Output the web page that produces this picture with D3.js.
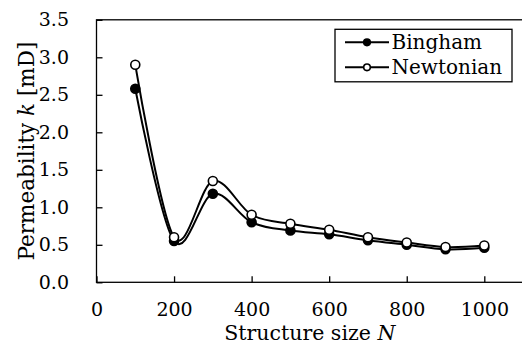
<!DOCTYPE html>
<html>
<head>
<meta charset="utf-8">
<script src="https://cdn.jsdelivr.net/npm/d3@7"></script>
<style>
  html, body { margin: 0; padding: 0; background: #fff; }
  svg { display: block; }
  text { font-family: "DejaVu Serif", "Liberation Serif", serif; fill: #000; }
</style>
</head>
<body>
<svg id="chart" width="522" height="347"></svg>
<script>
// Structure sizes and permeability for each fluid model
const sizes = [100, 200, 300, 400, 500, 600, 700, 800, 900, 1000];
const bingham = [2.58, 0.55, 1.18, 0.80, 0.69, 0.64, 0.56, 0.50, 0.44, 0.46];
const newtonian = [2.90, 0.60, 1.35, 0.90, 0.78, 0.70, 0.60, 0.53, 0.47, 0.49];
const xTicks = [0, 200, 400, 600, 800, 1000];
const yTicks = [0, 0.5, 1.0, 1.5, 2.0, 2.5, 3.0, 3.5];

const svg = d3.select("#chart");
const plotLeft = 96.5, plotTop = 19.8, plotBottom = 282.3;
const x = d3.scaleLinear().domain([0, 1000]).range([plotLeft, 484.3]);
const y = d3.scaleLinear().domain([0, 3.5]).range([plotBottom, plotTop]);
const plotRight = x(1100);

// frame
svg.append("rect")
  .attr("x", plotLeft).attr("y", plotTop)
  .attr("width", plotRight - plotLeft).attr("height", plotBottom - plotTop)
  .attr("fill", "none").attr("stroke", "#000").attr("stroke-width", 1.3);

// axes with inward ticks
const xAxis = svg.append("g").attr("transform", `translate(0,${plotBottom})`)
  .call(d3.axisBottom(x).tickValues(xTicks).tickSizeInner(-6).tickSizeOuter(0).tickPadding(20).tickFormat(d3.format("d")));
const yAxis = svg.append("g").attr("transform", `translate(${plotLeft},0)`)
  .call(d3.axisLeft(y).tickValues(yTicks).tickSizeInner(-6).tickSizeOuter(0).tickPadding(27.5).tickFormat(d3.format(".1f")));
[xAxis, yAxis].forEach(g => {
  g.select(".domain").remove();
  g.selectAll(".tick line").attr("stroke", "#000").attr("stroke-width", 1.3);
  g.selectAll(".tick text").style("font-size", "19px").style("font-family", null).attr("fill", "#000");
});

// axis titles
const xt = svg.append("text").attr("x", (plotLeft + plotRight) / 2).attr("y", 340)
  .attr("text-anchor", "middle").style("font-size", "20.5px");
xt.append("tspan").text("Structure size ");
xt.append("tspan").attr("font-style", "italic").text("N");

const yt = svg.append("text")
  .attr("transform", `translate(34,${(plotTop + plotBottom) / 2}) rotate(-90)`)
  .attr("text-anchor", "middle").style("font-size", "21.5px");
yt.append("tspan").text("Permeability ");
yt.append("tspan").attr("font-style", "italic").text("k");
yt.append("tspan").text(" [mD]");

// smoothed series
const line = d3.line().x(d => x(d[0])).y(d => y(d[1])).curve(d3.curveCatmullRom.alpha(0));
const series = [
  { name: "Bingham", values: bingham, fill: "#000" },
  { name: "Newtonian", values: newtonian, fill: "#fff" }
];
series.forEach(s => {
  const pts = sizes.map((n, i) => [n, s.values[i]]);
  svg.append("path").datum(pts).attr("d", line)
    .attr("fill", "none").attr("stroke", "#000").attr("stroke-width", 2);
  svg.append("g").selectAll("circle").data(pts).join("circle")
    .attr("cx", d => x(d[0])).attr("cy", d => y(d[1])).attr("r", 4.5)
    .attr("fill", s.fill).attr("stroke", "#000").attr("stroke-width", 1.6);
});

// legend
const lg = svg.append("g").attr("transform", "translate(335,29.3)");
lg.append("rect").attr("width", 177).attr("height", 52.5)
  .attr("fill", "#fff").attr("stroke", "#000").attr("stroke-width", 1.3);
series.forEach((s, i) => {
  const cy = 13 + i * 25;
  lg.append("line").attr("x1", 10).attr("x2", 54).attr("y1", cy).attr("y2", cy)
    .attr("stroke", "#000").attr("stroke-width", 2);
  lg.append("circle").attr("cx", 32).attr("cy", cy).attr("r", 3.3)
    .attr("fill", s.fill).attr("stroke", "#000").attr("stroke-width", 1.6);
  lg.append("text").attr("x", 56.5).attr("y", cy).attr("dy", "0.35em")
    .style("font-size", "20px").text(s.name);
});
</script>
</body>
</html>
